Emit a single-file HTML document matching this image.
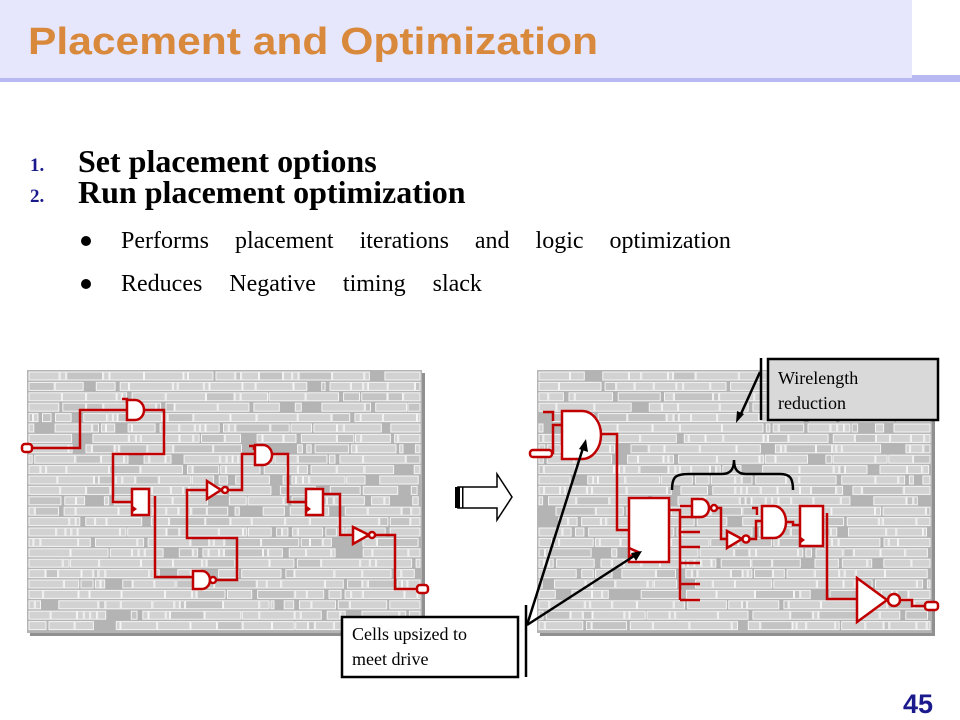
<!DOCTYPE html>
<html><head><meta charset="utf-8"><style>
html,body{margin:0;padding:0;background:#fff;width:960px;height:720px;overflow:hidden}
svg{display:block}
</style></head><body>
<svg id="s" width="960" height="720" viewBox="0 0 960 720" xmlns="http://www.w3.org/2000/svg">
<rect x="0" y="0" width="912" height="79" fill="#e6e6fc"/>
<rect x="0" y="78" width="912" height="4" fill="#b8b8f2"/>
<rect x="912" y="75" width="48" height="7" fill="#b8b8f2"/>
<text x="28" y="54" font-family="Liberation Sans, sans-serif" font-weight="bold" font-size="38" fill="#d8893c" textLength="570" lengthAdjust="spacingAndGlyphs">Placement and Optimization</text>

<g font-family="Liberation Serif, serif" font-weight="bold">
<text x="30" y="171" font-size="19" fill="#1a1a8c">1.</text>
<text x="78" y="172" font-size="32" fill="#000">Set placement options</text>
<text x="30" y="202" font-size="19" fill="#1a1a8c">2.</text>
<text x="78" y="203" font-size="32" fill="#000">Run placement optimization</text>
</g>
<g font-family="Liberation Serif, serif" font-size="24" fill="#000">
<circle cx="86" cy="241" r="5"/>
<text x="121" y="248" word-spacing="20">Performs placement iterations and logic optimization</text>
<circle cx="86" cy="284" r="5"/>
<text x="121" y="291" word-spacing="21">Reduces Negative timing slack</text>
</g>
<text x="903" y="713" font-family="Liberation Sans, sans-serif" font-weight="bold" font-size="27" fill="#1a1a8c">45</text>

<!-- panels -->
<rect x="30" y="373" width="395" height="263" fill="#909090"/>
<rect x="27" y="370" width="395" height="263" fill="#b4b4b4"/>
<rect x="540" y="373" width="395" height="263" fill="#909090"/>
<rect x="537" y="370" width="395" height="263" fill="#b4b4b4"/>
<g id="tex1"></g>
<g id="tex2"></g>

<!-- left circuit -->
<g fill="none" stroke="#c00000" stroke-width="2.5">
<rect x="22" y="444" width="10" height="8" rx="3" fill="#fff"/>
<polyline points="32,448 80,448 80,410 128,410"/>
<polyline points="122,399 127,399 127,404"/>
<path d="M127,400 h8 a9,10 0 0 1 0,20 h-8 z" fill="#fff"/>
<polyline points="144,410 164,410 164,454 113,454 113,502 132,502"/>
<rect x="132" y="489" width="17" height="26" fill="#fff"/>
<polyline points="155,496 155,577 193,577"/>
<path d="M193,571 h9 a8,9 0 0 1 0,18 h-9 z" fill="#fff"/>
<circle cx="213" cy="580" r="3" fill="#fff"/>
<polyline points="216,580 237,580 237,538 187,538 187,490 207,490"/>
<path d="M207,481 L221,490 L207,499 z" fill="#fff"/>
<circle cx="225" cy="490" r="3" fill="#fff"/>
<polyline points="228,490 242,490 242,454 255,454"/>
<polyline points="249,446 254,446 254,450"/>
<path d="M255,445 h8 a9,10 0 0 1 0,20 h-8 z" fill="#fff"/>
<polyline points="273,454 288,454 288,502 306,502"/>
<rect x="306" y="489" width="17" height="26" fill="#fff"/>
<polyline points="323,494 340,494 340,535 353,535"/>
<path d="M353,527 L369,535 L353,544 z" fill="#fff"/>
<circle cx="372" cy="535" r="3" fill="#fff"/>
<polyline points="375,535 395,535 395,589 417,589"/>
<rect x="417" y="585" width="11" height="8" rx="3" fill="#fff"/>
</g>
<g fill="#c00000"><path d="M133,506 l4,3 l-4,3z"/><path d="M307,506 l4,3 l-4,3z"/></g>

<!-- block arrow -->
<path d="M458,487 H497 V474 L512,497 L497,520 V508 H458 Z" fill="#fff" stroke="#000" stroke-width="1.5"/>
<rect x="455" y="487" width="5" height="21" fill="#000"/>
<rect x="462" y="487" width="1.5" height="21" fill="#000"/>

<!-- right circuit -->
<g fill="none" stroke="#c00000" stroke-width="2.5">
<rect x="530" y="450" width="22" height="7" rx="3" fill="#fff"/>
<polyline points="552,453 553,453 553,425 561,425"/>
<polyline points="543,412 553,412 553,421"/>
<path d="M562,411 h20 a19,24 0 0 1 0,48 h-20 z" fill="#fff"/>
<polyline points="600,434 617,434 617,530 629,530"/>
<rect x="629" y="498" width="40" height="64" fill="#fff"/>
<polyline points="629,548 638,552 629,557"/>
<polyline points="669,510 680,510 680,600"/>
<polyline points="680,517 700,517"/>
<polyline points="680,532 700,532"/>
<polyline points="680,547 700,547"/>
<polyline points="680,563 700,563"/>
<polyline points="680,584 700,584"/>
<polyline points="680,600 700,600"/>
<polyline points="680,506 692,506"/>
<path d="M692,499 h9 a8,9 0 0 1 0,18 h-9 z" fill="#fff"/>
<circle cx="714" cy="508" r="3" fill="#fff"/>
<polyline points="717,508 721,508 721,539 727,539"/>
<path d="M727,531 L742,539 L727,548 z" fill="#fff"/>
<circle cx="746" cy="539" r="3.5" fill="#fff"/>
<polyline points="750,539 756,539 756,521 762,521"/>
<polyline points="752,508 757,508 757,515"/>
<path d="M762,506 h12 a12,16 0 0 1 0,32 h-12 z" fill="#fff"/>
<polyline points="786,522 793,522 793,525 800,525"/>
<rect x="800" y="506" width="23" height="40" fill="#fff"/>
<polyline points="827,513 827,599 857,599"/>
<path d="M857,578 L887,600 L857,622 z" fill="#fff"/>
<circle cx="894" cy="600" r="6" fill="#fff"/>
<polyline points="900,600 912,600 912,606 925,606"/>
<rect x="925" y="602" width="13" height="8" rx="3" fill="#fff"/>
</g>
<g fill="#c00000"><path d="M801,537 l4,3 l-4,3z"/></g>

<!-- brace -->
<path d="M672,490 C672,476 676,474 690,474 H722 C730,474 734,470 734,460 C734,470 738,474 746,474 H780 C790,474 793,478 793,490" fill="none" stroke="#000" stroke-width="2.5"/>

<!-- callouts -->
<rect x="768" y="359" width="170" height="61" fill="#d9d9d9" stroke="#000" stroke-width="2.5"/>
<text x="778" y="384" font-family="Liberation Serif, serif" font-size="18" fill="#000">Wirelength</text>
<text x="778" y="409" font-family="Liberation Serif, serif" font-size="18" fill="#000">reduction</text>
<line x1="761" y1="358" x2="761" y2="420" stroke="#000" stroke-width="2.5"/>
<line x1="760" y1="372" x2="740" y2="416" stroke="#000" stroke-width="2.5"/>
<path d="M736,423 L737,411 L744,414 z" fill="#000"/>

<rect x="342" y="617" width="176" height="60" fill="#fff" stroke="#000" stroke-width="2.5"/>
<text x="352" y="640" font-family="Liberation Serif, serif" font-size="18" fill="#000">Cells upsized to</text>
<text x="352" y="665" font-family="Liberation Serif, serif" font-size="18" fill="#000">meet drive</text>
<line x1="526" y1="605" x2="526" y2="677" stroke="#000" stroke-width="2.5"/>
<line x1="527" y1="625" x2="583" y2="448" stroke="#000" stroke-width="2.5"/>
<path d="M586,439 L588,452 L579,449 z" fill="#000"/>
<line x1="527" y1="625" x2="634" y2="556" stroke="#000" stroke-width="2.5"/>
<path d="M642,551 L636,561 L631,553 z" fill="#000"/>
</svg>
<script>
(function(){
var seed=12345;function r(){seed=(seed*1103515245+12345)%2147483648;return seed/2147483648;}
var NS="http://www.w3.org/2000/svg";
function fill(id,x0,y0,w,h){
  var g=document.getElementById(id);
  for(var y=y0+2;y<y0+h-8;y+=10.4){
    var x=x0+2;
    while(x<x0+w-4){
      if(r()<0.09){x+=3+r()*18;continue;}
      var cw=r()<0.3?3+r()*3:8+r()*35;
      if(x+cw>x0+w-2)cw=x0+w-2-x;
      if(cw<2)break;
      var e=document.createElementNS(NS,"rect");
      e.setAttribute("x",x.toFixed(1));e.setAttribute("y",y.toFixed(1));
      e.setAttribute("width",cw.toFixed(1));e.setAttribute("height","8");
      e.setAttribute("fill",r()<0.2?"#c4c4c4":"#d2d2d2");
      e.setAttribute("stroke","#f4f4f4");e.setAttribute("stroke-width","1");
      g.appendChild(e);
      x+=cw+1+(r()<0.25?r()*5:0);
    }
  }
}
fill("tex1",27,370,395,263);
fill("tex2",537,370,395,263);
})();
</script>
</body></html>
